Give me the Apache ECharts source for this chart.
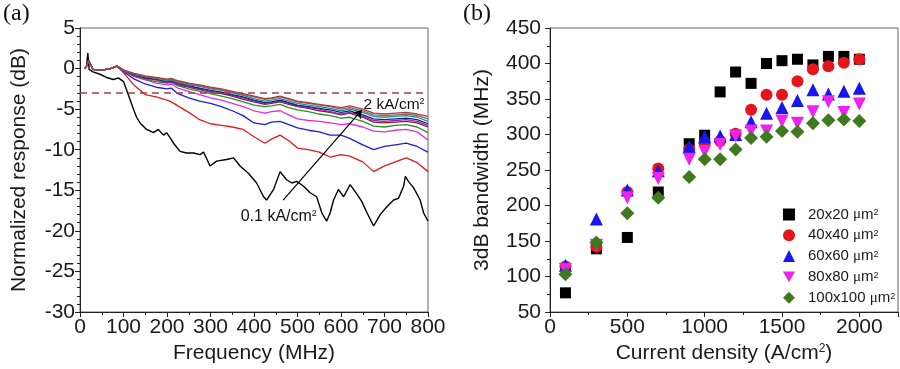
<!DOCTYPE html>
<html><head><meta charset="utf-8">
<script src="https://cdn.jsdelivr.net/npm/echarts@6/dist/echarts.min.js"></script>
<style>html,body{margin:0;padding:0;background:#fff}#c{width:900px;height:369px}</style>
</head><body><div id="c"></div>
<script>
// ---------- Panel (a): frequency response ----------
const freqGrid = [10,15,20,30,50,70,85,100,125,150,175,200,210,225,250,275,300,325,350,375,400,425,440,460,480,500,525,550,575,600,620,650,675,700,725,750,775,800];
const resp03 = [0,0.3,1.0,-0.1,-0.2,0.0,0.3,-0.5,-2.1,-3.2,-3.5,-3.9,-4.1,-4.6,-5.4,-6.3,-6.8,-7.0,-7.2,-7.5,-8.4,-9.2,-8.7,-8.2,-8.9,-9.8,-10.0,-10.3,-10.9,-10.6,-10.8,-11.5,-12.7,-12.0,-11.5,-11.0,-11.6,-12.7];
const resp05 = [0,0.3,1.0,-0.1,-0.2,0.0,0.3,-0.4,-1.3,-1.9,-2.3,-2.5,-2.4,-3.1,-3.6,-4.0,-4.3,-4.7,-5.2,-5.8,-6.7,-6.9,-6.6,-6.5,-6.9,-7.3,-7.6,-7.8,-8.2,-8.2,-8.6,-9.4,-10.0,-9.6,-9.4,-9.2,-9.6,-10.3];
const resp07 = [0,0.3,1.0,-0.1,-0.2,0.0,0.3,-0.3,-1.0,-1.4,-1.8,-2.0,-1.9,-2.4,-2.8,-3.2,-3.6,-3.9,-4.3,-4.7,-5.2,-5.5,-5.3,-5.2,-5.7,-6.2,-6.4,-6.5,-6.7,-6.9,-6.8,-7.2,-7.7,-7.8,-7.6,-7.5,-7.8,-8.8];
const resp09 = [0,0.3,1.0,-0.1,-0.2,0.0,0.3,-0.3,-0.9,-1.3,-1.6,-1.8,-1.7,-2.1,-2.5,-2.8,-3.1,-3.4,-3.7,-4.1,-4.5,-4.7,-4.6,-4.4,-4.8,-5.1,-5.3,-5.6,-5.8,-6.1,-6.0,-6.5,-7.1,-7.2,-7.0,-6.9,-7.2,-7.9];
const resp11 = [0,0.3,1.0,-0.1,-0.2,0.0,0.3,-0.2,-0.8,-1.2,-1.4,-1.7,-1.6,-2.0,-2.3,-2.6,-2.9,-3.1,-3.4,-3.8,-4.1,-4.4,-4.3,-4.1,-4.4,-4.7,-4.9,-5.2,-5.4,-5.7,-5.5,-6.0,-6.6,-6.7,-6.6,-6.5,-6.7,-7.2];
const resp13 = [0,0.3,1.0,-0.1,-0.2,0.0,0.3,-0.2,-0.8,-1.1,-1.4,-1.7,-1.6,-1.9,-2.2,-2.5,-2.8,-3.0,-3.3,-3.6,-4.0,-4.3,-4.2,-4.0,-4.3,-4.6,-4.8,-5.0,-5.3,-5.6,-5.4,-5.9,-6.4,-6.5,-6.4,-6.3,-6.5,-7.0];
const resp15 = [0,0.3,1.0,-0.1,-0.2,0.0,0.3,-0.2,-0.8,-1.1,-1.3,-1.6,-1.5,-1.8,-2.1,-2.4,-2.7,-2.9,-3.2,-3.5,-3.9,-4.2,-4.1,-3.9,-4.2,-4.5,-4.7,-4.9,-5.1,-5.4,-5.2,-5.7,-6.2,-6.3,-6.2,-6.1,-6.3,-6.8];
const resp17 = [0,0.3,1.0,-0.1,-0.2,0.0,0.3,-0.2,-0.7,-1.0,-1.2,-1.5,-1.4,-1.7,-2.0,-2.2,-2.5,-2.7,-3.0,-3.3,-3.7,-4.0,-3.9,-3.7,-4.0,-4.3,-4.5,-4.7,-4.9,-5.2,-5.0,-5.4,-5.9,-6.0,-5.9,-5.8,-6.0,-6.5];
const resp19 = [0,0.3,1.0,-0.1,-0.2,0.0,0.3,-0.2,-0.7,-1.0,-1.2,-1.4,-1.3,-1.6,-1.9,-2.1,-2.4,-2.6,-2.9,-3.2,-3.5,-3.8,-3.7,-3.5,-3.8,-4.1,-4.3,-4.5,-4.7,-5.0,-4.8,-5.2,-5.7,-5.8,-5.7,-5.6,-5.8,-6.2];
const resp20 = [0,0.3,1.0,-0.1,-0.2,0.0,0.3,-0.2,-0.6,-0.9,-1.1,-1.3,-1.2,-1.5,-1.8,-2.0,-2.3,-2.5,-2.8,-3.1,-3.4,-3.7,-3.6,-3.4,-3.7,-4.0,-4.2,-4.4,-4.6,-4.8,-4.6,-5.0,-5.5,-5.6,-5.5,-5.4,-5.6,-5.9];
const resp01Freq = [10,15,18,21,30,46,61,77,88,100,107,115,123,130,138,153,169,180,192,199,207,215,230,245,261,276,284,292,299,314,337,353,368,387,406,422,429,445,460,475,487,498,514,529,544,556,567,575,583,594,606,621,637,648,660,675,690,706,721,732,744,748,755,767,782,790,800];
const resp01Db = [0,0.3,1.9,-0.1,-0.4,-0.7,-1.1,-1.35,-1.15,-1.6,-2.6,-3.8,-5.0,-6.0,-6.7,-7.5,-7.9,-7.5,-8.2,-7.9,-8.5,-9.2,-10.2,-10.4,-10.4,-10.6,-10.3,-11.2,-12.0,-11.4,-11.2,-11.0,-12.0,-12.9,-14.1,-15.8,-16.2,-14.9,-12.7,-13.7,-14.1,-13.9,-14.5,-15.3,-15.8,-17.8,-18.8,-17.8,-16.2,-14.9,-15.8,-14.3,-15.5,-16.4,-17.8,-19.4,-18.0,-17.0,-16.2,-16.0,-14.5,-13.3,-13.9,-14.7,-16.2,-17.8,-18.8];
const threeDbLevel = -3;
const arrowFrom = [467, -16.2], arrowTo = [648, -5.1];
const labelLow = [457, -18.3], labelHigh = [722, -4.5];

// ---------- Panel (b): 3dB bandwidth ----------
const currentDensity = [100,300,500,700,900,1000,1100,1200,1300,1400,1500,1600,1700,1800,1900,2000];
const bw20 = [77,139,155,219,287,299,360,388,372,400,404,406,398,410,410,406];
const bw40 = [114,142,219,252,279,288,291,301,335,356,356,375,392,396,401,406];
const bw60 = [116,181,222,249,283,297,298,300,318,330,338,348,363,357,361,365];
const bw80 = [110,144,211,238,265,276,286,298,305,305,319,316,332,346,331,343];
const bw100 = [103,148,189,211,240,265,265,279,295,297,305,304,316,320,321,319];
const sizeLabels = ['20x20', '40x40', '60x60', '80x80', '100x100'];

const FONT = '"Liberation Sans", Arial, Helvetica, sans-serif';
const TXT = '#1a1a1a';
const zip = (xs, ys) => xs.map((x, i) => [x, ys[i]]);

const respCurves = [
  {name: '0.3', v: resp03, c: '#e31b1b'},
  {name: '0.5', v: resp05, c: '#1b1be6'},
  {name: '0.7', v: resp07, c: '#e02ee0'},
  {name: '0.9', v: resp09, c: '#2e8b2e'},
  {name: '1.1', v: resp11, c: '#8b1a2a'},
  {name: '1.3', v: resp13, c: '#8a30b0'},
  {name: '1.5', v: resp15, c: '#1e1e8c'},
  {name: '1.7', v: resp17, c: '#2a8f8f'},
  {name: '1.9', v: resp19, c: '#707070'},
  {name: '2.0', v: resp20, c: '#b03a3a'}
];

const series = [];
series.push({
  type: 'line', name: '0.1', xAxisIndex: 0, yAxisIndex: 0, data: zip(resp01Freq, resp01Db),
  showSymbol: false, symbol: 'none', lineStyle: {color: '#000', width: 1.4}, z: 2,
  markLine: {
    silent: true, symbol: ['none', 'none'], animation: false,
    data: [
      {yAxis: threeDbLevel, lineStyle: {color: '#a04040', width: 1.5, type: [7, 5]}, label: {show: false}},
      [{coord: arrowFrom, symbol: 'none', lineStyle: {color: '#000', width: 1.2, type: 'solid'}},
       {coord: arrowTo, symbol: 'arrow', symbolSize: 8}]
    ],
    label: {show: false}
  }
});
respCurves.forEach(rc => series.push({
  type: 'line', name: rc.name, xAxisIndex: 0, yAxisIndex: 0, data: zip(freqGrid, rc.v),
  showSymbol: false, symbol: 'none', lineStyle: {color: rc.c, width: 1.3}, z: 3
}));
// annotation labels
const annLabel = (fmt, fs, ss) => ({
  show: true, position: 'inside', formatter: fmt, fontSize: fs, color: '#111', fontFamily: FONT,
  textBorderWidth: 0, textShadowBlur: 0, opacity: 1,
  rich: {s: {fontSize: ss, verticalAlign: 'top', color: '#111', fontFamily: FONT, textBorderWidth: 0}}
});
series.push({
  type: 'scatter', name: 'lblLow', xAxisIndex: 0, yAxisIndex: 0, data: [labelLow], symbolSize: 0, silent: true, z: 10,
  itemStyle: {color: '#111', opacity: 1}, label: annLabel('0.1 kA/cm{s|2}', 16, 9)
});
series.push({
  type: 'scatter', name: 'lblHigh', xAxisIndex: 0, yAxisIndex: 0, data: [labelHigh], symbolSize: 0, silent: true, z: 10,
  itemStyle: {color: '#111', opacity: 1}, label: annLabel('2 kA/cm{s|2}', 15.5, 9)
});

const bwSets = [
  {v: bw20, c: '#000000', sym: 'rect', size: 11},
  {v: bw40, c: '#e8141b', sym: 'circle', size: 12},
  {v: bw60, c: '#1616f0', sym: 'triangle', size: 13},
  {v: bw80, c: '#ee22ee', sym: 'path://M0,0 L10,0 L5,9 Z', size: 13},
  {v: bw100, c: '#3f7a1f', sym: 'diamond', size: 14}
];
const legendNames = sizeLabels.map(s => s + ' \u03bcm\u00b2');
bwSets.forEach((b, i) => series.push({
  type: 'scatter', name: legendNames[i], xAxisIndex: 1, yAxisIndex: 1, data: zip(currentDensity, b.v),
  symbol: b.sym, symbolSize: b.size, itemStyle: {color: b.c, opacity: 1}, z: 3 + i
}));

const axisCommon = {
  axisLine: {show: true, onZero: false, lineStyle: {color: '#222', width: 1}},
  axisTick: {show: true, inside: false, length: 5, lineStyle: {color: '#222', width: 1}},
  minorTick: {show: true, length: 3, lineStyle: {color: '#222', width: 1}},
  splitLine: {show: false},
  nameLocation: 'middle',
  nameTextStyle: {fontSize: 21, color: TXT, fontFamily: FONT}
};
const lbl = (m) => ({fontSize: 21, color: TXT, fontFamily: FONT, margin: m, formatter: (v) => String(v)});

const option = {
  animation: false,
  backgroundColor: '#fff',
  textStyle: {fontFamily: FONT},
  title: [
    {text: '(a)', left: 3, top: 2, padding: 0, textStyle: {fontFamily: '"Liberation Serif", "Times New Roman", serif', fontSize: 24, fontWeight: 'normal', color: '#111'}},
    {text: '(b)', left: 463, top: 2, padding: 0, textStyle: {fontFamily: '"Liberation Serif", "Times New Roman", serif', fontSize: 24, fontWeight: 'normal', color: '#111'}}
  ],
  grid: [
    {left: 80, top: 28, width: 348, height: 284, show: true, borderColor: '#666', borderWidth: 1},
    {left: 550, top: 28, width: 348, height: 284, show: true, borderColor: '#666', borderWidth: 1}
  ],
  xAxis: [
    Object.assign({}, axisCommon, {gridIndex: 0, type: 'value', min: 0, max: 800, interval: 100,
      minorTick: Object.assign({}, axisCommon.minorTick, {splitNumber: 2}),
      axisLabel: lbl(5), name: 'Frequency (MHz)', nameGap: 25}),
    Object.assign({}, axisCommon, {gridIndex: 1, type: 'value', min: 0, max: 2250, interval: 500,
      minorTick: Object.assign({}, axisCommon.minorTick, {splitNumber: 2}),
      axisLabel: Object.assign(lbl(5), {showMaxLabel: false}),
      name: 'Current density (A/cm{s|2})', nameGap: 28,
      nameTextStyle: {fontSize: 21, color: TXT, fontFamily: FONT, rich: {s: {fontSize: 12, verticalAlign: 'top', color: TXT, fontFamily: FONT}}}})
  ],
  yAxis: [
    Object.assign({}, axisCommon, {gridIndex: 0, type: 'value', min: -30, max: 5, interval: 5,
      minorTick: Object.assign({}, axisCommon.minorTick, {splitNumber: 5}),
      axisLabel: lbl(5), name: 'Normalized response (dB)', nameGap: 50}),
    Object.assign({}, axisCommon, {gridIndex: 1, type: 'value', min: 50, max: 450, interval: 50,
      minorTick: Object.assign({}, axisCommon.minorTick, {splitNumber: 2}),
      axisLabel: lbl(9), name: '3dB bandwidth (MHz)', nameGap: 57})
  ],
  legend: {
    data: legendNames, orient: 'vertical', left: 783, top: 207,
    itemWidth: 12, itemHeight: 12, itemGap: 5.8, padding: 0,
    textStyle: {fontSize: 15, color: TXT, fontFamily: FONT, lineHeight: 12,
      rich: {
        p: {fontSize: 15, color: TXT, fontFamily: FONT, lineHeight: 12, padding: [0, 0, 0, 8]},
        n: {fontSize: 15, color: TXT, fontFamily: FONT, lineHeight: 12},
        u: {fontSize: 15, color: TXT, fontFamily: '"Liberation Serif", serif', lineHeight: 12},
        s: {fontSize: 9, verticalAlign: 'top', color: TXT, fontFamily: FONT, lineHeight: 9}}},
    formatter: (name) => {
      const base = name.split(' ')[0];
      return '{p|' + base + ' }{u|\u03bc}{n|m}{s|2}';
    }
  },
  series: series
};

const chart = echarts.init(document.getElementById('c'), null, {renderer: 'canvas'});
chart.setOption(option);
</script>
</body></html>
